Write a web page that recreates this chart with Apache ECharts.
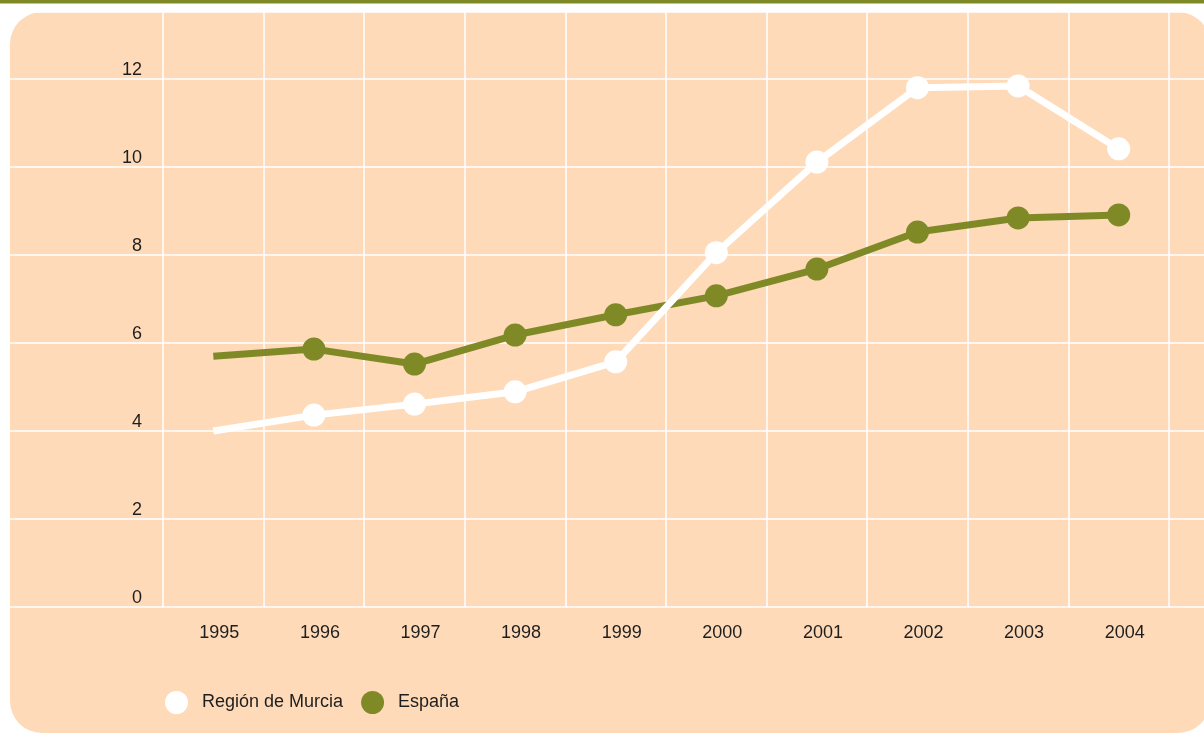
<!DOCTYPE html>
<html><head><meta charset="utf-8">
<script src="https://cdn.jsdelivr.net/npm/echarts@6/dist/echarts.min.js"></script>
<style>html,body{margin:0;padding:0;background:#fff}#c{width:1204px;height:733px}</style>
</head><body><div id="c"></div>
<script>
const years = ['1995','1996','1997','1998','1999','2000','2001','2002','2003','2004'];
const murcia = [4.0, 4.36, 4.61, 4.89, 5.57, 8.05, 10.11, 11.8, 11.84, 10.41];
const espana = [5.70, 5.86, 5.52, 6.18, 6.64, 7.07, 7.68, 8.52, 8.84, 8.91];
const yTicks = [0, 2, 4, 6, 8, 10, 12];
const names = ['Región de Murcia', 'España'];

const GREEN = '#7F8A27', PEACH = '#FEDAB9';
const YMAX = 13.52;
const font = 'Liberation Sans';
function withFirstHidden(arr){ return arr.map((v,i)=> i===0 ? {value:v, symbol:'none'} : v); }

const chart = echarts.init(document.getElementById('c'), null, {renderer:'canvas'});
chart.setOption({
  animation:false,
  backgroundColor:'#fff',
  textStyle:{fontFamily:font},
  graphic:[
    {type:'rect', z:-10, shape:{x:0,y:0,width:1204,height:3.5}, style:{fill:GREEN}},
    {type:'rect', z:-10, shape:{x:10,y:12,width:1200,height:721,r:32}, style:{fill:PEACH}}
  ],
  grid:[
    {left:163, right:35, top:12, bottom:126},
    {left:10, right:0, top:12, bottom:126}
  ],
  xAxis:[
    {type:'category', gridIndex:0, data:years, boundaryGap:true,
     axisLine:{show:false}, axisTick:{show:false},
     axisLabel:{color:'#1e1e1e', fontSize:18, fontFamily:font, margin:17, padding:[0,0,0,12]},
     splitLine:{show:true, lineStyle:{color:'#fff', width:1.5}}},
    {type:'value', gridIndex:1, show:false, min:0, max:1}
  ],
  yAxis:[
    {type:'value', gridIndex:0, min:0, max:YMAX, interval:2,
     axisLine:{show:false}, axisTick:{show:false},
     splitLine:{show:false},
     axisLabel:{color:'#1e1e1e', fontSize:18, fontFamily:font, margin:21, verticalAlign:'bottom', padding:[0,0,0,0],
       formatter:v=> yTicks.includes(v) ? String(v) : ''}},
    {type:'value', gridIndex:1, min:0, max:YMAX, interval:2,
     axisLine:{show:false}, axisTick:{show:false}, axisLabel:{show:false},
     splitLine:{show:true, lineStyle:{color:'#fff', width:1.5}}}
  ],
  legend:{
    left:160, top:686, icon:'circle', itemWidth:23, itemHeight:23, itemGap:18,
    textStyle:{color:'#1e1e1e', fontSize:18, fontFamily:font, padding:[0,0,0,9]},
    data:names
  },
  series:[
    {name:names[1], type:'line', xAxisIndex:0, yAxisIndex:0, data:withFirstHidden(espana),
     symbol:'circle', symbolSize:23, z:2,
     lineStyle:{color:GREEN, width:7}, itemStyle:{color:GREEN}},
    {name:names[0], type:'line', xAxisIndex:0, yAxisIndex:0, data:withFirstHidden(murcia),
     symbol:'circle', symbolSize:23, z:3,
     lineStyle:{color:'#fff', width:7}, itemStyle:{color:'#fff'}}
  ]
});
</script></body></html>
